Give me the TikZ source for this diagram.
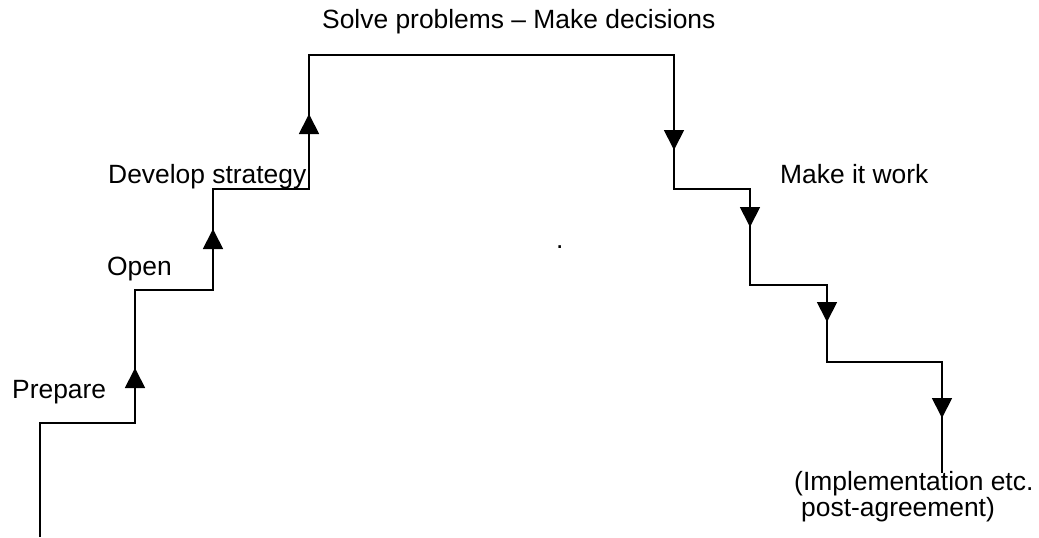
\documentclass[tikz,border=0pt]{standalone}
\usepackage{fontspec}
\setmainfont{Liberation Sans}
\usepackage{tikz}
\usetikzlibrary{arrows.meta, positioning}
\tikzset{
    stairline/.style={line width=1.8pt, draw=black},
    steparrow/.style={-{Triangle[width=20pt, length=20pt]}, line width=1.8pt, draw=black},
    steplabel/.style={font=\fontsize{26.4}{30}\selectfont, inner sep=0pt, anchor=base west}
}
\begin{document}
\begin{tikzpicture}[x=1pt,y=-1pt]
    \useasboundingbox (0,0) rectangle (1039,538);
    % corners of the stairs
    \foreach \n/\px/\py in {0/40/537, 1/40/423, 2/135/423, 3/135/290, 4/213/290, 5/213/189,
        6/309/189, 7/309/55, 8/674/55, 9/674/189, 10/750/189, 11/750/285,
        12/827/285, 13/827/362, 14/942/362, 15/942/473} {
        \coordinate (c\n) at (\px,\py);
    }
    \draw[stairline] (c0) -- (c1) -- (c2) -- (c3) -- (c4) -- (c5) -- (c6) -- (c7) -- (c8)
        -- (c9) -- (c10) -- (c11) -- (c12) -- (c13) -- (c14) -- (c15);
    % arrows going up, then going down
    \foreach \x/\tip/\dir in {135/368/1, 213/229/1, 309/114/1, 674/150/-1, 750/227/-1, 827/322/-1, 942/418/-1} {
        \coordinate (ab) at (\x,\tip+20*\dir);
        \coordinate (at) at (\x,\tip);
        \draw[steparrow] (ab) -- (at);
    }
    \node[steplabel] (prepare) at (12,398) {Prepare};
    \node[steplabel] (open) at (107,275) {Open};
    \node[steplabel] (strategy) at (108,183) {Develop strategy};
    \node[steplabel] (solve) at (322,28) {Solve problems -- Make decisions};
    \node[steplabel] (work) at (780,183) {Make it work};
    \node[steplabel] (impl) at (794,490) {(Implementation etc.};
    \node[steplabel] (agree) at (801,516) {post-agreement)};
    \node[steplabel] (dot) at (556,248) {.};
\end{tikzpicture}
\end{document}
